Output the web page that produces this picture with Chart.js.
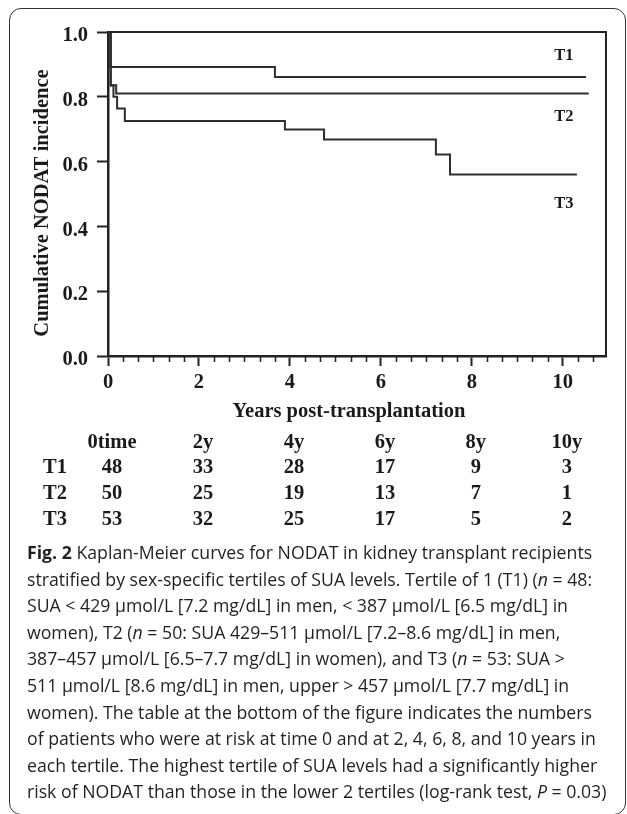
<!DOCTYPE html>
<html><head><meta charset="utf-8">
<script src="https://cdn.jsdelivr.net/npm/chart.js@4.4.1/dist/chart.umd.min.js"></script>
<style>
html,body{margin:0;padding:0;background:#fff;width:627px;height:814px;overflow:hidden;position:relative;}
#frame{position:absolute;left:9px;top:8px;width:617px;height:807px;border:1.5px solid #333;border-radius:12px;box-sizing:border-box;}
#c{position:absolute;left:0;top:0;}
#caption{position:absolute;left:27px;top:539px;font-family:"Open Sans",sans-serif;color:#231f20;line-height:26.6px;white-space:nowrap;}
#caption b{font-weight:700;}
</style></head>
<body>
<div id="frame"></div>
<canvas id="c" width="627" height="540"></canvas>
<div id="caption">
<b>Fig. 2</b> Kaplan-Meier curves for NODAT in kidney transplant recipients<br>
stratified by sex-specific tertiles of SUA levels. Tertile of 1 (T1) (<i>n</i> = 48:<br>
SUA &lt; 429 μmol/L [7.2 mg/dL] in men, &lt; 387 μmol/L [6.5 mg/dL] in<br>
women), T2 (<i>n</i> = 50: SUA 429–511 μmol/L [7.2–8.6 mg/dL] in men,<br>
387–457 μmol/L [6.5–7.7 mg/dL] in women), and T3 (<i>n</i> = 53: SUA &gt;<br>
511 μmol/L [8.6 mg/dL] in men, upper &gt; 457 μmol/L [7.7 mg/dL] in<br>
women). The table at the bottom of the figure indicates the numbers<br>
of patients who were at risk at time 0 and at 2, 4, 6, 8, and 10 years in<br>
each tertile. The highest tertile of SUA levels had a significantly higher<br>
<span id="lastline">risk of NODAT than those in the lower 2 tertiles (log-rank test, <i>P</i> = 0.03)</span>
</div>
<script>
// ---- data ----
const yearsT1 = [0, 0.05, 3.67, 10.51];
const cumT1   = [1.0, 0.892, 0.861, 0.861];
const yearsT2 = [0, 0.06, 0.18, 10.57];
const cumT2   = [1.0, 0.836, 0.81, 0.81];
const yearsT3 = [0, 0.06, 0.12, 0.2, 0.37, 3.89, 4.75, 7.21, 7.52, 10.31];
const cumT3   = [1.0, 0.835, 0.80, 0.764, 0.725, 0.699, 0.668, 0.622, 0.560, 0.560];
const seriesNames = ['T1', 'T2', 'T3'];
const xTickValues = [0, 2, 4, 6, 8, 10];
const yTickValues = [0, 0.2, 0.4, 0.6, 0.8, 1.0];
const riskHeaders = ['0time', '2y', '4y', '6y', '8y', '10y'];
const riskT1 = [48, 33, 28, 17, 9, 3];
const riskT2 = [50, 25, 19, 13, 7, 1];
const riskT3 = [53, 32, 25, 17, 5, 2];
const yTitle = 'Cumulative NODAT incidence';
const xTitle = 'Years post-transplantation';

// fit caption width
(function(){
  const cv = document.createElement('canvas').getContext('2d');
  cv.font = '100px "Open Sans"';
  const w = cv.measureText('risk of NODAT than those in the lower 2 tertiles (log-rank test, P = 0.03)').width;
  const size = 580 / w * 100;
  document.getElementById('caption').style.fontSize = size.toFixed(2) + 'px';
})();

const serif = '"Liberation Serif", "Times New Roman", serif';
const ink = '#1a1a1a';

function pts(xs, ys){ return xs.map((x, i) => ({x: x, y: ys[i]})); }

const extras = {
  id: 'extras',
  afterDraw(chart){
    const ctx = chart.ctx, a = chart.chartArea;
    const xs = chart.scales.x, ys = chart.scales.y;
    ctx.save();
    // frame top/right
    ctx.strokeStyle = '#222'; ctx.lineWidth = 2;
    ctx.beginPath();
    ctx.moveTo(a.left, a.top); ctx.lineTo(a.right, a.top); ctx.lineTo(a.right, a.bottom + 1);
    ctx.stroke();
    // minor x ticks
    ctx.lineWidth = 1.5;
    for (let k = 1; k * (1/3) <= xs.max; k++) {
      if (k % 6 === 0) continue;
      const px = Math.round(xs.getPixelForValue(k / 3)) + 0.5;
      ctx.beginPath(); ctx.moveTo(px, a.bottom); ctx.lineTo(px, a.bottom + 6); ctx.stroke();
    }
    ctx.fillStyle = ink;
    // axis titles
    ctx.font = 'bold 20.5px ' + serif;
    ctx.textAlign = 'center'; ctx.textBaseline = 'middle';
    ctx.fillText(xTitle, (a.left + a.right) / 2 - 8, a.bottom + 56);
    ctx.save();
    ctx.translate(43, (a.top + a.bottom) / 2 + 9);
    ctx.rotate(-Math.PI / 2);
    ctx.font = 'bold 20.5px ' + serif;
    ctx.fillText(yTitle, 0, 0);
    ctx.restore();
    // curve labels
    ctx.font = 'bold 16.5px ' + serif;
    const labelAt = [0.928, 0.738, 0.470];
    seriesNames.forEach((n, i) => {
      ctx.fillText(n, xs.getPixelForValue(10) + 1, ys.getPixelForValue(labelAt[i]));
    });
    // risk table
    ctx.font = 'bold 20.5px ' + serif;
    const rows = [riskT1, riskT2, riskT3];
    riskHeaders.forEach((h, j) => {
      const px = xs.getPixelForValue(xTickValues[j]) + 4;
      ctx.fillText(h, px, a.bottom + 87);
      rows.forEach((r, i) => {
        ctx.fillText(String(r[j]), px, a.bottom + 112 + i * 25.8);
      });
    });
    ctx.textAlign = 'left';
    seriesNames.forEach((n, i) => {
      ctx.fillText(n, 43, a.bottom + 112 + i * 25.8);
    });
    ctx.restore();
  }
};

const lineStyle = {borderColor: '#2e2e2e', borderWidth: 2, pointRadius: 0, fill: false, stepped: 'before', tension: 0};

new Chart(document.getElementById('c'), {
  type: 'line',
  data: {
    datasets: [
      Object.assign({label: seriesNames[0], data: pts(yearsT1, cumT1)}, lineStyle),
      Object.assign({label: seriesNames[1], data: pts(yearsT2, cumT2)}, lineStyle),
      Object.assign({label: seriesNames[2], data: pts(yearsT3, cumT3)}, lineStyle)
    ]
  },
  options: {
    responsive: false, animation: false, devicePixelRatio: 1,
    layout: {padding: {left: 0, top: 32, right: 21, bottom: 0}},
    plugins: {legend: {display: false}, tooltip: {enabled: false}},
    scales: {
      x: {
        type: 'linear', min: 0, max: 10.95,
        afterBuildTicks: s => { s.ticks = xTickValues.map(v => ({value: v})); },
        afterFit: s => { s.height = 540 - 356; },
        ticks: {callback: v => String(v), font: {family: serif, size: 20.5, weight: 'bold'}, color: ink, padding: 4, autoSkip: false, maxRotation: 0},
        grid: {drawOnChartArea: false, tickLength: 10, tickColor: '#222', tickWidth: 2},
        border: {display: true, color: '#222', width: 2.5}
      },
      y: {
        min: 0, max: 1,
        afterBuildTicks: s => { s.ticks = yTickValues.map(v => ({value: v})); },
        afterFit: s => { s.width = 108; },
        ticks: {callback: v => Number(v).toFixed(1), font: {family: serif, size: 20.5, weight: 'bold'}, color: ink, padding: 9, labelOffset: 4},
        grid: {drawOnChartArea: false, tickLength: 11, tickColor: '#222', tickWidth: 2},
        border: {display: true, color: '#222', width: 2.5}
      }
    }
  },
  plugins: [extras]
});
</script>
</body></html>
